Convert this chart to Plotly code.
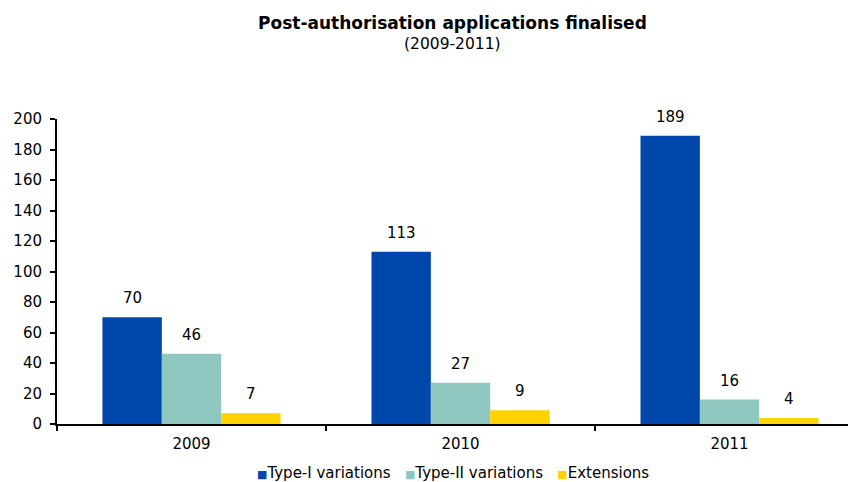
import plotly.graph_objects as go

years = ["2009", "2010", "2011"]
series_names = ["Type-I variations", "Type-II variations", "Extensions"]
type1 = [70, 113, 189]
type2 = [46, 27, 16]
extensions = [7, 9, 4]
colors = ["#0047AB", "#8EC8C0", "#FFD200"]
y_ticks = [0, 20, 40, 60, 80, 100, 120, 140, 160, 180, 200]

FONT = "DejaVu Sans, Verdana, sans-serif"

fig = go.Figure()
all_vals = [type1, type2, extensions]
for name, vals, col in zip(series_names, all_vals, colors):
    fig.add_trace(go.Bar(x=years, y=vals, name=name, marker=dict(color=col, line=dict(width=0))))

bar_px = 59.3
for i, vals in enumerate(all_vals):
    for j, v in enumerate(vals):
        fig.add_annotation(x=j, y=v, xref="x", yref="y", text=str(v), showarrow=False,
                           yanchor="bottom", xshift=(i - 1) * bar_px, yshift=8,
                           font=dict(family=FONT, size=15, color="black"))

# title and subtitle
fig.add_annotation(x=0.495, y=1.315, xref="paper", yref="paper", showarrow=False,
                   text="<b>Post-authorisation applications finalised</b>", yanchor="middle",
                   font=dict(family=FONT, size=17, color="black"))
fig.add_annotation(x=0.495, y=1.246, xref="paper", yref="paper", showarrow=False,
                   text="(2009-2011)", yanchor="middle",
                   font=dict(family=FONT, size=15.5, color="black"))

# legend as text
legend_text = "".join(
    f"<span style='color:{c};font-size:11px'>■</span>{n}" + ("   " if k < len(series_names) - 1 else "")
    for k, (n, c) in enumerate(zip(series_names, colors))
)
fig.add_annotation(x=0.495, y=-0.16, xref="paper", yref="paper", showarrow=False,
                   text=legend_text, yanchor="middle",
                   font=dict(family=FONT, size=15, color="black"))

fig.update_layout(
    width=848, height=474,
    margin=dict(l=49, r=0, t=111, b=58),
    paper_bgcolor="white", plot_bgcolor="white",
    barmode="group", bargap=0.338, bargroupgap=0,
    font=dict(family=FONT, size=15, color="black"),
    showlegend=False,
    xaxis=dict(type="category", range=[-0.5, 2.470], showline=True, linecolor="black", linewidth=2,
               ticks="outside", tickson="boundaries", ticklen=5, tickwidth=2, tickcolor="black",
               ticklabelstandoff=5,
               showgrid=False, tickfont=dict(size=15)),
    yaxis=dict(range=[0, 200], tickvals=y_ticks, showline=True, linecolor="black", linewidth=2,
               ticks="outside", ticklen=5, tickwidth=2, tickcolor="black",
               ticklabelstandoff=5,
               showgrid=False, zeroline=False, tickfont=dict(size=15)),
)

fig.write_html("out.html")
